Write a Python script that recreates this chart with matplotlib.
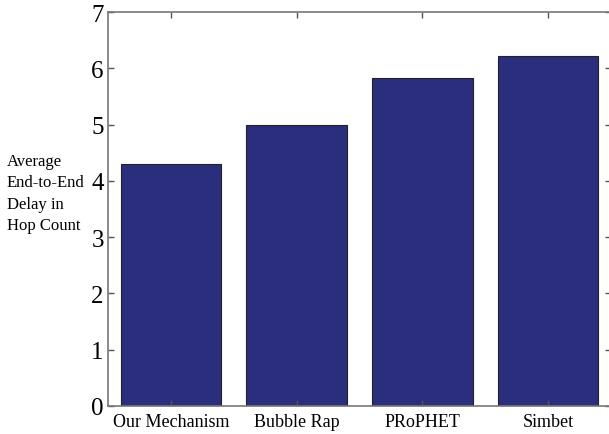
import matplotlib
matplotlib.use("Agg")
import matplotlib.pyplot as plt

categories = ["Our Mechanism", "Bubble Rap", "PRoPHET", "Simbet"]
delays = [4.3, 5.0, 5.83, 6.22]
yticks = [0, 1, 2, 3, 4, 5, 6, 7]

plt.rcParams['font.family'] = ['Liberation Serif', 'DejaVu Serif']

fig = plt.figure(figsize=(6.09, 4.35), dpi=100)
# axes placed in pixels: left 108, right ~611, top 13, bottom 407
W, H = 609, 435
ax = fig.add_axes([108 / W, (H - 407) / H, (611 - 108) / W, (407 - 13) / H])

x = range(1, len(categories) + 1)
ax.bar(x, delays, width=0.8, color='#2b2e7c', edgecolor='#222222', linewidth=0.8, zorder=1)

ax.set_xlim(0.5, 4.5)
ax.set_ylim(0, 7)
ax.set_yticks(yticks)
ax.set_yticklabels([str(t) for t in yticks], fontsize=18)
ax.set_xticks(list(x))
ax.set_xticklabels(categories, fontsize=13)

ax.tick_params(axis='both', direction='in', length=4, width=1, color='#555555',
               top=True, right=True, zorder=3)
ax.tick_params(axis='y', pad=3)
ax.tick_params(axis='x', pad=5)
for s in ax.spines.values():
    s.set_color('#777777')
    s.set_linewidth(1.2)
    s.set_zorder(3)

fig.text(7 / W, 1 - 194 / H, "Average\nEnd-to-End\nDelay in\nHop Count",
         ha='left', va='center', fontsize=12, linespacing=1.45)

fig.savefig("out.png", dpi=100)
